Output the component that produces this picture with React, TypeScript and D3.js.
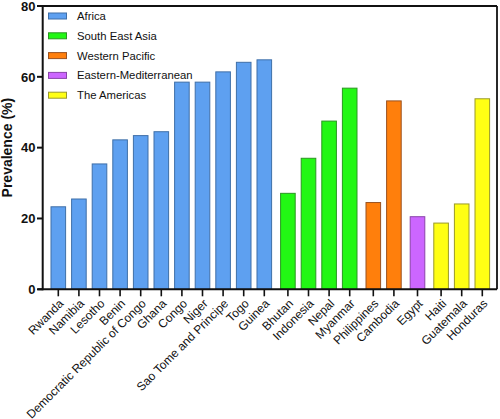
import React from "react";
import * as d3 from "d3";

const categories = [
  "Rwanda", "Namibia", "Lesotho", "Benin", "Democratic Republic of Congo", "Ghana", "Congo", "Niger",
  "Sao Tome and Principe", "Togo", "Guinea", "Bhutan", "Indonesia", "Nepal", "Myanmar",
  "Philippines", "Cambodia", "Egypt", "Haiti", "Guatemala", "Honduras",
];
const values = [23.3, 25.5, 35.4, 42.2, 43.4, 44.5, 58.5, 58.5, 61.4, 64.1, 64.8, 27.1, 37.0, 47.5, 56.8, 24.5, 53.2, 20.5, 18.7, 24.1, 53.8];
const regionOf = [0, 0, 0, 0, 0, 0, 0, 0, 0, 0, 0, 1, 1, 1, 1, 2, 2, 3, 4, 4, 4];
const regions = ["Africa", "South East Asia", "Western Pacific", "Eastern-Mediterranean", "The Americas"];
const fills = ["#5ea0f0", "#22f714", "#ff7f0c", "#cc66ff", "#ffff14"];
const strokes = ["#3f6fa8", "#2b9622", "#9a5220", "#8a44aa", "#9a9a2a"];
const yTicks = [0, 20, 40, 60, 80];

const FONT = "'Liberation Sans', Arial, Helvetica, sans-serif";

export default function App() {
  const W = 500, H = 419;
  const axisX = 42.7, rightX = 497, topY = 6, baseY = 289.3;
  const gap = 0.1456;
  const pos = categories.map((_, i) => i + regionOf[i] * gap);
  const x = d3.scaleLinear().domain([0, pos[pos.length - 1]]).range([58.3, 482.3]);
  const y = d3.scaleLinear().domain([0, 80]).range([baseY, topY]);
  const barW = 14.6;

  return (
    <svg width={W} height={H} style={{ position: "absolute", left: 0, top: 0, background: "#fff" }} fontFamily={FONT}>
      {/* bars */}
      {values.map((v, i) => (
        <rect key={i} x={x(pos[i]) - barW / 2} y={y(v)} width={barW} height={baseY - y(v)}
          fill={fills[regionOf[i]]} stroke={strokes[regionOf[i]]} strokeWidth={1} />
      ))}
      {/* frame */}
      <line x1={axisX} x2={rightX} y1={topY} y2={topY} stroke="#111" strokeWidth={1.8} />
      <line x1={rightX} x2={rightX} y1={topY} y2={baseY} stroke="#111" strokeWidth={1.8} />
      {/* y axis */}
      <line x1={axisX} x2={axisX} y1={topY - 0.9} y2={baseY + 0.9} stroke="#111" strokeWidth={2} />
      {yTicks.map((t) => (
        <g key={t}>
          <line x1={37} x2={axisX} y1={y(t)} y2={y(t)} stroke="#111" strokeWidth={2} />
          <text x={35.5} y={y(t)} dy="0.36em" textAnchor="end" fontSize={13} fontWeight="bold" fill="#111">{t}</text>
        </g>
      ))}
      <text transform={`translate(11.5,${(topY + baseY) / 2}) rotate(-90)`} textAnchor="middle" fontSize={14} fontWeight="bold" fill="#111">Prevalence (%)</text>
      {/* x axis */}
      <line x1={axisX - 5} x2={rightX} y1={baseY} y2={baseY} stroke="#111" strokeWidth={2} />
      {categories.map((c, i) => (
        <g key={c}>
          <line x1={x(pos[i])} x2={x(pos[i])} y1={baseY} y2={baseY + 7} stroke="#111" strokeWidth={1.6} />
          <text transform={`translate(${x(pos[i]) + 3},${baseY + 12}) rotate(-45)`} textAnchor="end" dy="0.35em" fontSize={12} fill="#111">{c}</text>
        </g>
      ))}
      {/* legend */}
      {regions.map((r, k) => (
        <g key={r}>
          <rect x={48.5} y={13 + k * 19.8} width={18} height={6} fill={fills[k]} stroke={strokes[k]} strokeWidth={1} />
          <text x={77} y={16 + k * 19.8} dy="0.35em" fontSize={11.3} fill="#111">{r}</text>
        </g>
      ))}
    </svg>
  );
}
